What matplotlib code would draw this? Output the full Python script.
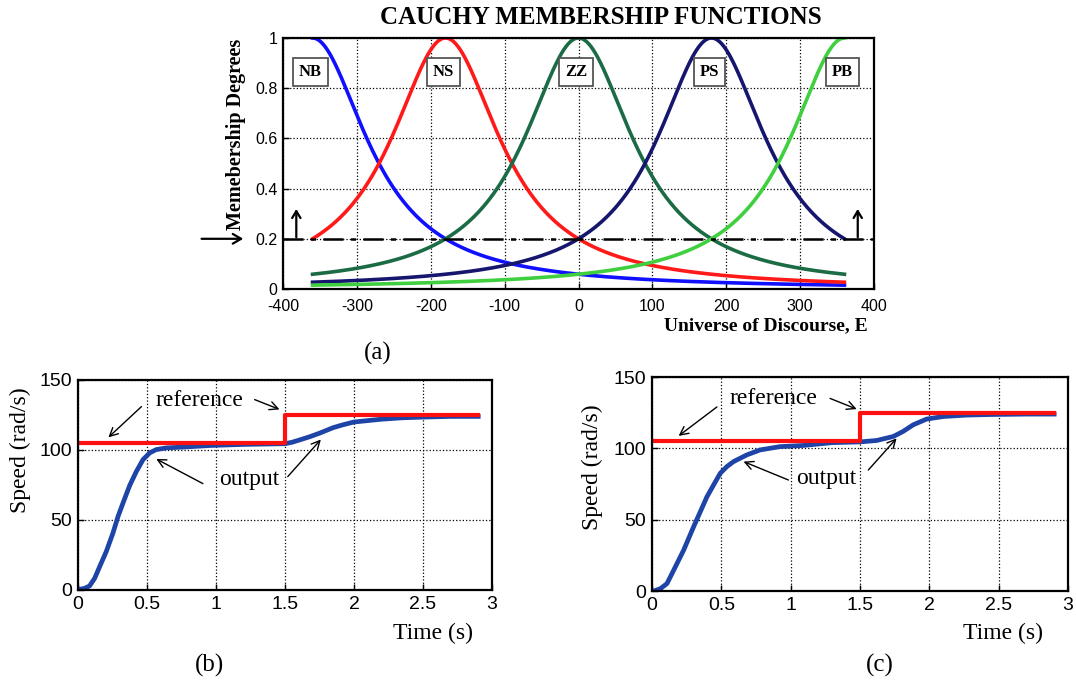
import numpy as np
import matplotlib
matplotlib.use('Agg')
import matplotlib.pyplot as plt

plt.rcParams['axes.unicode_minus'] = False

# ---- panel (a): Cauchy membership functions ----
mf_labels = ['NB', 'NS', 'ZZ', 'PS', 'PB']
mf_centers = [-360, -180, 0, 180, 360]
mf_width = 90
mf_colors = ['#1010ff', '#ff1a1a', '#1b6b45', '#16166e', '#3fcf3f']

# ---- panel (b) ----
t_ref_b = [0, 1.5, 1.5, 2.9]
ref_b = [105, 105, 125, 125]
t_out_b = [0, 0.012, 0.048, 0.084, 0.121, 0.157, 0.205, 0.253, 0.29, 0.326, 0.374,
           0.422, 0.471, 0.519, 0.567, 0.64, 0.784, 0.953, 1.2, 1.5, 1.55, 1.6, 1.68,
           1.75, 1.85, 1.92, 2.0, 2.1, 2.2, 2.35, 2.5, 2.7, 2.9]
out_b = [0, 0.5, 1.2, 2.9, 8.4, 16.7, 27.5, 40.6, 52.5, 62.1, 74.5,
         84.5, 93.1, 97.9, 100.3, 101.5, 102.2, 103.2, 104, 104.5, 105.5, 107, 109.5,
         112, 116, 118, 120, 121, 122, 123, 123.5, 124, 124]

# ---- panel (c) ----
t_ref_c = [0, 1.5, 1.5, 2.9]
ref_c = [105, 105, 125, 125]
t_out_c = [0, 0.012, 0.06, 0.108, 0.156, 0.228, 0.3, 0.348, 0.396, 0.444, 0.492,
           0.54, 0.588, 0.684, 0.78, 0.924, 1.09, 1.3, 1.5, 1.62, 1.74, 1.81, 1.884,
           1.98, 2.1, 2.27, 2.44, 2.7, 2.9]
out_c = [0, 0, 1.6, 5.2, 14.5, 28.6, 45, 55.5, 66, 74.3, 82.5,
         87.2, 90.7, 95.4, 98.9, 101.2, 102, 104, 104.5, 105.5, 108.3, 111.8, 116.5,
         120.5, 122.3, 123.3, 123.7, 124, 124]

SERIF = 'Liberation Serif'
SANS = 'Liberation Sans'

fig = plt.figure(figsize=(10.76, 6.84), dpi=100)


def style_axes(ax, fs, xpad=4):
    ax.grid(True, linestyle=':', color='black', linewidth=0.9)
    ax.tick_params(direction='in', length=4, width=1, labelsize=fs, pad=4,
                   top=False, right=False)
    ax.tick_params(axis='x', pad=xpad)
    for lab in ax.get_xticklabels() + ax.get_yticklabels():
        lab.set_fontfamily(SANS)
    for s in ax.spines.values():
        s.set_linewidth(1.6)


# ===== (a) =====
axa = fig.add_axes([283 / 1076, 1 - 289 / 684, 591 / 1076, 251 / 684])
x = np.linspace(-360, 360, 721)
for lab, c, col in zip(mf_labels, mf_centers, mf_colors):
    mu = 1.0 / (1.0 + ((x - c) / mf_width) ** 2)
    axa.plot(x, mu, color=col, lw=2.6)
    axa.text(c - 3, 0.865, lab, ha='center', va='center',
             fontsize=12, fontweight='bold', family=SERIF,
             bbox=dict(boxstyle='square,pad=0.35', fc='white', ec='#555555', lw=1.3))
axa.axhline(0.2, color='black', lw=1.8, linestyle='-.', dashes=(8, 3, 2, 3))
axa.set_xlim(-400, 400)
axa.set_ylim(0, 1)
axa.set_xticks(np.arange(-400, 401, 100))
axa.set_yticks([0, 0.2, 0.4, 0.6, 0.8, 1])
axa.set_yticklabels(['0', '0.2', '0.4', '0.6', '0.8', '1'])
style_axes(axa, 11.5, xpad=7)
axa.annotate('', xy=(-382, 0.33), xytext=(-382, 0.195),
             arrowprops=dict(arrowstyle='->,head_width=0.3,head_length=0.5', lw=1.6, color='black'))
axa.annotate('', xy=(378, 0.33), xytext=(378, 0.195),
             arrowprops=dict(arrowstyle='->,head_width=0.3,head_length=0.5', lw=1.6, color='black'))
axa.annotate('', xy=(-450, 0.2), xytext=(-514, 0.2), annotation_clip=False,
             arrowprops=dict(arrowstyle='->,head_width=0.35,head_length=0.6', lw=1.6, color='black'))
fig.text(601 / 1076, 1 - 18 / 684, 'CAUCHY MEMBERSHIP FUNCTIONS', ha='center', va='center',
         fontsize=18, fontweight='bold', family=SERIF)
fig.text(868 / 1076, 1 - 326 / 684, 'Universe of Discourse, E', ha='right', va='center',
         fontsize=14, fontweight='bold', family=SERIF)
fig.text(236 / 1076, 1 - 134 / 684, 'Memebership Degrees', ha='center', va='center',
         rotation=90, fontsize=14.5, fontweight='bold', family=SERIF)
fig.text(378 / 1076, 1 - 353 / 684, '(a)', ha='center', va='center', fontsize=18, family=SERIF)


def speed_panel(rect, t_ref, ref, t_out, out, ann, xlab_pos, ylab_pos, cap_pos, cap):
    ax = fig.add_axes(rect)
    ax.plot(t_out, out, color='#1d44a6', lw=3.4)
    ax.plot(t_ref, ref, color='#ff1010', lw=3.0)
    ax.set_xlim(0, 3)
    ax.set_ylim(0, 150)
    ax.set_xticks([0, 0.5, 1, 1.5, 2, 2.5, 3])
    ax.set_xticklabels(['0', '0.5', '1', '1.5', '2', '2.5', '3'])
    ax.set_yticks([0, 50, 100, 150])
    style_axes(ax, 14)
    (rx, ry), (ox, oy), arrows = ann
    ax.text(rx, ry, 'reference', ha='center', va='center', fontsize=17, family=SERIF)
    ax.text(ox, oy, 'output', ha='center', va='center', fontsize=17, family=SERIF)
    for (x0, y0), (x1, y1) in arrows:
        ax.annotate('', xy=(x1, y1), xytext=(x0, y0),
                    arrowprops=dict(arrowstyle='->,head_width=0.3,head_length=0.6',
                                    lw=1.0, color='black', shrinkA=0, shrinkB=0))
    fig.text(xlab_pos[0] / 1076, 1 - xlab_pos[1] / 684, 'Time (s)', ha='center', va='center',
             fontsize=17, family=SERIF)
    fig.text(ylab_pos[0] / 1076, 1 - ylab_pos[1] / 684, 'Speed (rad/s)', ha='center',
             va='center', rotation=90, fontsize=17, family=SERIF)
    fig.text(cap_pos[0] / 1076, 1 - cap_pos[1] / 684, cap, ha='center', va='center',
             fontsize=18, family=SERIF)
    return ax


ann_b = ((0.88, 135.5), (1.24, 79),
         [((0.46, 131), (0.22, 109)), ((1.28, 136), (1.46, 129)),
          ((0.905, 76), (0.567, 93.6)), ((1.52, 81), (1.76, 107.5))])
speed_panel([78 / 1076, 1 - 590 / 684, 414 / 1076, 210 / 684], t_ref_b, ref_b, t_out_b, out_b,
            ann_b, (433, 633), (20, 450), (210, 665), '(b)')

ann_c = ((0.876, 135), (1.26, 79),
         [((0.468, 129), (0.192, 108.7)), ((1.284, 135), (1.476, 127.5)),
          ((0.984, 77.8), (0.66, 90.7)), ((1.56, 84.8), (1.764, 107))])
speed_panel([652 / 1076, 1 - 591 / 684, 416 / 1076, 214 / 684], t_ref_c, ref_c, t_out_c, out_c,
            ann_c, (1003, 633), (592, 467), (880, 665), '(c)')

fig.savefig('out.png', dpi=100)
